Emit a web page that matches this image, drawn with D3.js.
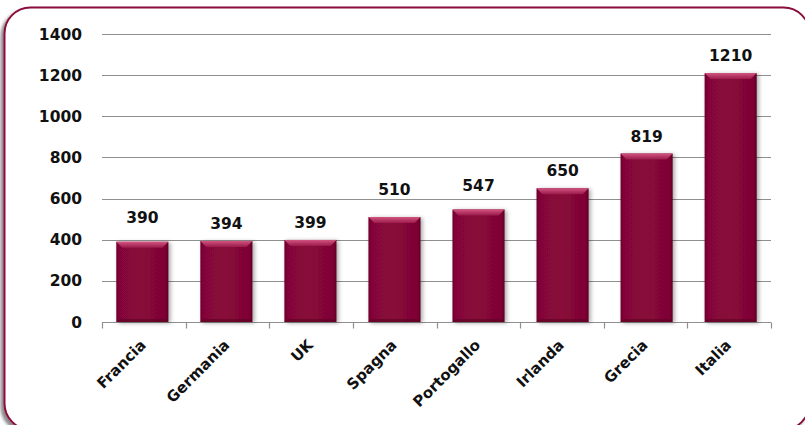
<!DOCTYPE html>
<html>
<head>
<meta charset="utf-8">
<script src="https://cdn.jsdelivr.net/npm/d3@7"></script>
<style>
  html, body { margin: 0; padding: 0; background: #ffffff; }
  svg { display: block; }
  text { font-family: "DejaVu Sans", Verdana, sans-serif; font-weight: bold; fill: #111; }
</style>
</head>
<body>
<svg id="chart" width="805" height="425"></svg>
<script>
// Data
const countries = ["Francia", "Germania", "UK", "Spagna", "Portogallo", "Irlanda", "Grecia", "Italia"];
const values = [390, 394, 399, 510, 547, 650, 819, 1210];
const yTicks = [0, 200, 400, 600, 800, 1000, 1200, 1400];

const svg = d3.select("#chart");
const W = 805, H = 425;
const margin = { left: 102, right: 34, top: 34, bottom: 103 };

// a few value labels sit a little higher than the others
const labelLift = { Francia: 7, Spagna: 10, Portogallo: 6 };

const defs = svg.append("defs");

// shadow for the panel
const panelShadow = defs.append("filter").attr("id", "panelShadow")
  .attr("x", "-5%").attr("y", "-5%").attr("width", "110%").attr("height", "110%");
panelShadow.append("feDropShadow")
  .attr("dx", -3).attr("dy", 3).attr("stdDeviation", 1.5)
  .attr("flood-color", "#000").attr("flood-opacity", 0.45);

// soft shadow behind bars
const barShadow = defs.append("filter").attr("id", "barShadow")
  .attr("x", "-20%").attr("y", "-10%").attr("width", "150%").attr("height", "120%");
barShadow.append("feDropShadow")
  .attr("dx", 2).attr("dy", 1).attr("stdDeviation", 2)
  .attr("flood-color", "#000").attr("flood-opacity", 0.35);

// horizontal shading across each bar
const barGrad = defs.append("linearGradient").attr("id", "barGrad")
  .attr("x1", "0").attr("x2", "1").attr("y1", "0").attr("y2", "0");
[["0%", "#6a0428"], ["6%", "#84063a"], ["50%", "#880839"], ["94%", "#7e0535"], ["100%", "#5e0322"]]
  .forEach(([o, c]) => barGrad.append("stop").attr("offset", o).attr("stop-color", c));

// bevelled top edge
const topGrad = defs.append("linearGradient").attr("id", "topGrad")
  .attr("x1", "0").attr("x2", "0").attr("y1", "0").attr("y2", "1");
[["0%", "#d2547f"], ["100%", "#9a1a4a"]]
  .forEach(([o, c]) => topGrad.append("stop").attr("offset", o).attr("stop-color", c));

// Panel frame (runs slightly past the bottom and right edges)
svg.append("rect")
  .attr("x", 4.5).attr("y", 7.5)
  .attr("width", 805).attr("height", 422)
  .attr("rx", 26).attr("ry", 26)
  .attr("fill", "#ffffff")
  .attr("stroke", "#8a0d3c").attr("stroke-width", 2)
  .attr("filter", "url(#panelShadow)");

// Scales
const x = d3.scaleBand()
  .domain(countries)
  .range([margin.left, W - margin.right])
  .paddingInner(0.38).paddingOuter(0.17);

const xBand = d3.scaleBand()
  .domain(countries)
  .range([margin.left, W - margin.right])
  .padding(0);

const y = d3.scaleLinear()
  .domain([0, 1400])
  .range([H - margin.bottom, margin.top]);

// Grid lines
svg.append("g")
  .selectAll("line")
  .data(yTicks.filter(t => t > 0))
  .join("line")
  .attr("x1", margin.left).attr("x2", W - margin.right)
  .attr("y1", d => Math.round(y(d)) + 0.5).attr("y2", d => Math.round(y(d)) + 0.5)
  .attr("stroke", "#8f8f8f").attr("stroke-width", 1.2);

// Y tick labels
svg.append("g")
  .selectAll("text")
  .data(yTicks)
  .join("text")
  .attr("x", 82)
  .attr("y", d => y(d))
  .attr("dy", "0.36em")
  .attr("text-anchor", "end")
  .style("font-size", "15.5px")
  .text(d => d);

// X axis with ticks at category boundaries
const xAxisG = svg.append("g")
  .attr("transform", `translate(0,${Math.round(y(0)) + 0.5})`);
xAxisG.append("line")
  .attr("x1", margin.left).attr("x2", W - margin.right)
  .attr("stroke", "#8f8f8f").attr("stroke-width", 1.2);
const boundaries = countries.map(c => xBand(c)).concat([W - margin.right]);
xAxisG.selectAll("line.tick")
  .data(boundaries)
  .join("line")
  .attr("class", "tick")
  .attr("x1", d => Math.round(d) + 0.5).attr("x2", d => Math.round(d) + 0.5)
  .attr("y1", 0).attr("y2", 6)
  .attr("stroke", "#8f8f8f").attr("stroke-width", 1.2);

// Bars
const bars = svg.append("g")
  .selectAll("g")
  .data(countries.map((c, i) => ({ c, v: values[i] })))
  .join("g");

bars.append("rect")
  .attr("x", d => x(d.c))
  .attr("y", d => y(d.v))
  .attr("width", x.bandwidth())
  .attr("height", d => y(0) - y(d.v))
  .attr("fill", "url(#barGrad)")
  .attr("filter", "url(#barShadow)");

// top bevel
bars.append("path")
  .attr("d", d => {
    const x0 = x(d.c), x1 = x0 + x.bandwidth(), t = y(d.v), b = 6;
    return `M${x0},${t}L${x1},${t}L${x1 - b},${t + b}L${x0 + b},${t + b}Z`;
  })
  .attr("fill", "url(#topGrad)");

// bottom bevel
bars.append("path")
  .attr("d", d => {
    const x0 = x(d.c), x1 = x0 + x.bandwidth(), bt = y(0), b = 3;
    return `M${x0},${bt}L${x1},${bt}L${x1 - b},${bt - b}L${x0 + b},${bt - b}Z`;
  })
  .attr("fill", "#5a0320").attr("opacity", 0.6);

// Value labels
bars.append("text")
  .attr("x", d => x(d.c) + x.bandwidth() / 2)
  .attr("y", d => y(d.v) - 12 - (labelLift[d.c] || 0))
  .attr("text-anchor", "middle")
  .style("font-size", "15.5px")
  .text(d => d.v);

// Category labels, rotated
svg.append("g")
  .selectAll("text")
  .data(countries)
  .join("text")
  .attr("transform", d => `translate(${xBand(d) + xBand.bandwidth() / 2 + 3},${y(0) + 24}) rotate(-45)`)
  .attr("text-anchor", "end")
  .style("font-size", "15px")
  .text(d => d);
</script>
</body>
</html>
